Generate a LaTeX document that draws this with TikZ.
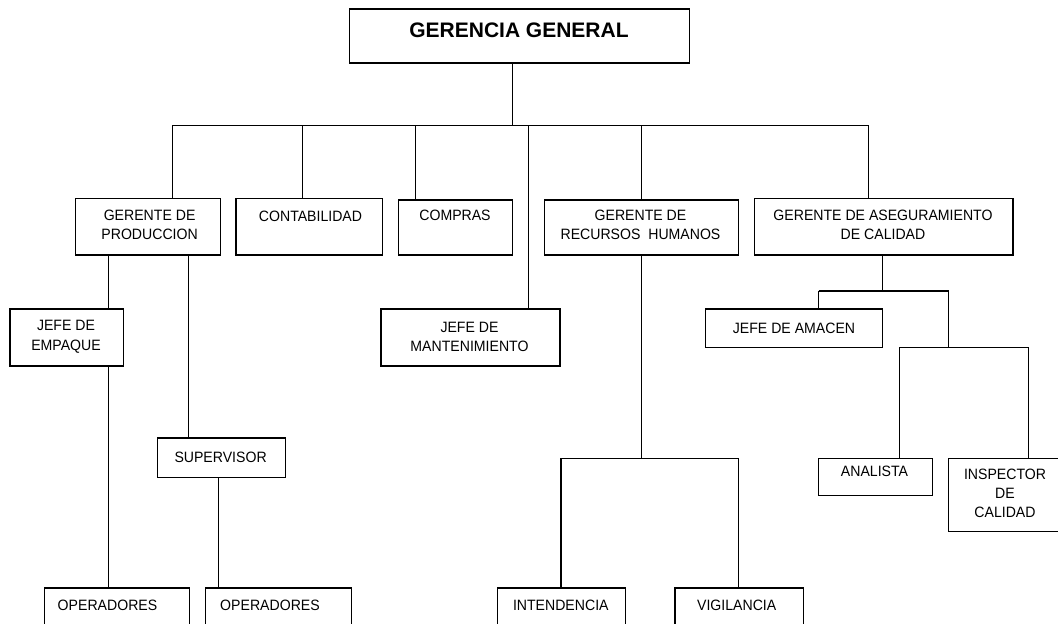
\documentclass[tikz,border=0pt]{standalone}
\usepackage{fontspec}
\setmainfont{Liberation Sans}
\newfontfamily\orgfont[FakeStretch=0.94]{Liberation Sans}
\begin{document}
\begin{tikzpicture}[x=1pt,y=1pt,
  box/.style={draw=black, line width=1.4pt, rectangle, inner sep=0pt},
  lbl/.style={inner sep=0pt, align=center, font=\orgfont\fontsize{15}{19.5}\selectfont},
  title/.style={inner sep=0pt, font=\fontsize{21}{24}\selectfont\bfseries},
  link/.style={draw=black, line width=1.4pt}]
\useasboundingbox (0,0) rectangle (1058,-624);
\fill[white] (0,0) rectangle (1058,-624);
\clip (0,0) rectangle (1058,-624);
\newcommand\orgbox[5]{%
  \pgfmathsetmacro\bw{#4-#2}\pgfmathsetmacro\bh{#5-#3}%
  \pgfmathsetmacro\bx{(#2+#4)/2}\pgfmathsetmacro\by{-(#3+#5)/2}%
  \node[box, minimum width=\bw pt, minimum height=\bh pt] (#1) at (\bx,\by) {};}
% boxes
\orgbox{gg}{349.6}{9}{689.6}{63}
\orgbox{prod}{75.4}{198.3}{220.4}{255}
\orgbox{conta}{236}{198.3}{382.7}{255}
\orgbox{comp}{398.6}{200}{512.5}{255}
\orgbox{rrhh}{544.2}{200}{738.6}{255}
\orgbox{cal}{754.5}{198.3}{1012.8}{255}
\orgbox{emp}{10}{309}{123.4}{366}
\orgbox{mant}{381}{309}{559.8}{366}
\orgbox{alm}{705.5}{309}{882.6}{347.3}
\orgbox{sup}{157.2}{438}{285.7}{477.3}
\orgbox{ana}{818.7}{458.3}{932.3}{495.7}
\orgbox{insp}{948.2}{458.3}{1075}{531.7}
\orgbox{op1}{44.3}{588}{189.3}{640}
\orgbox{op2}{205.2}{588}{351.6}{640}
\orgbox{int}{497.5}{588}{625.5}{640}
\orgbox{vig}{675}{588}{803.5}{640}
% texts
\node[title] (tgg) at (519,-30.5) {GERENCIA GENERAL};
\node[lbl] (tprod) at (149.6,-225) {GERENTE DE\\PRODUCCION};
\node[lbl] (tconta) at (310.5,-216.7) {CONTABILIDAD};
\node[lbl] (tcomp) at (455,-215) {COMPRAS};
\node[lbl] (trrhh) at (640.5,-225) {GERENTE DE\\RECURSOS\ \ HUMANOS};
\node[lbl] (tcal) at (883,-225) {GERENTE DE ASEGURAMIENTO\\DE CALIDAD};
\node[lbl] (temp) at (66,-336.8) {JEFE DE\\EMPAQUE};
\node[lbl] (tmant) at (469.5,-336.8) {JEFE DE\\MANTENIMIENTO};
\node[lbl] (talm) at (794,-328) {JEFE DE AMACEN};
\node[lbl] (tsup) at (220.6,-457.3) {SUPERVISOR};
\node[lbl] (tana) at (874.5,-471.7) {ANALISTA};
\node[lbl, font=\orgfont\fontsize{15}{19}\selectfont] (tinsp) at (1005,-493.5) {INSPECTOR\\DE\\CALIDAD};
\node[lbl] (top1) at (107.5,-605) {OPERADORES};
\node[lbl] (top2) at (270,-605) {OPERADORES};
\node[lbl] (tint) at (560.8,-605) {INTENDENCIA};
\node[lbl] (tvig) at (736.7,-605) {VIGILANCIA};
% bus coordinates
\coordinate (b0) at (512.5,-125.3);
\coordinate (bP) at (172.4,-125.3);
\coordinate (bC) at (302.2,-125.3);
\coordinate (bK) at (415.5,-125.3);
\coordinate (bM) at (528.4,-125.3);
\coordinate (bR) at (641.3,-125.3);
\coordinate (bQ) at (868.4,-125.3);
\coordinate (pE) at (108.5,0);
\coordinate (pS) at (188.6,0);
\coordinate (sO) at (218.4,0);
\coordinate (rJ) at (641.3,-458.3);
\coordinate (rI) at (561.1,-458.3);
\coordinate (rV) at (738.6,-458.3);
\coordinate (qJ) at (882.6,-291);
\coordinate (qA) at (818.7,-291);
\coordinate (qB) at (948.5,-291);
\coordinate (qC) at (948.5,-347.3);
\coordinate (qN) at (899.2,-347.3);
\coordinate (qI) at (1028.7,-347.3);
% connectors
\draw[link] (gg.south -| b0) -- (b0);
\draw[link] (bP) -- (bQ);
\draw[link] (bP) -- (bP |- prod.north);
\draw[link] (bC) -- (bC |- conta.north);
\draw[link] (bK) -- (bK |- comp.north);
\draw[link] (bM) -- (bM |- mant.north);
\draw[link] (bR) -- (bR |- rrhh.north);
\draw[link] (bQ) -- (bQ |- cal.north);
\draw[link] (prod.south -| pE) -- (emp.north -| pE);
\draw[link] (emp.south -| pE) -- (op1.north -| pE);
\draw[link] (prod.south -| pS) -- (sup.north -| pS);
\draw[link] (sup.south -| sO) -- (op2.north -| sO);
\draw[link] (rrhh.south -| rJ) -- (rJ);
\draw[link] (rI) -- (rV);
\draw[link] (rI) -- (rI |- int.north);
\draw[link] (rV) -- (rV |- vig.north);
\draw[link] (cal.south -| qJ) -- (qJ);
\draw[link] (qA) -- (qB);
\draw[link] (qA) -- (qA |- alm.north);
\draw[link] (qB) -- (qC);
\draw[link] (qN) -- (qI);
\draw[link] (qN) -- (qN |- ana.north);
\draw[link] (qI) -- (qI |- insp.north);
\end{tikzpicture}
\end{document}
